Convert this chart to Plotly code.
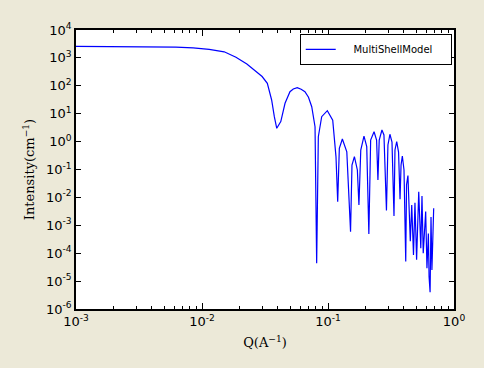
import plotly.graph_objects as go

# Q (1/A) and intensity (1/cm)
q_values = [0.001, 0.003, 0.0062, 0.0085, 0.0114, 0.0150, 0.0186, 0.0227, 0.0269, 0.0300,
            0.033, 0.0357, 0.0375, 0.0392, 0.0422,
            0.0456, 0.0499, 0.0530, 0.0570, 0.0612, 0.0656, 0.0700, 0.0743, 0.0789, 0.0813,
            0.0838, 0.0891, 0.0988,
            0.109, 0.1157, 0.1194, 0.123, 0.130, 0.141, 0.151, 0.155, 0.162, 0.171,
            0.176, 0.182, 0.193, 0.203, 0.211, 0.218, 0.232, 0.243, 0.249, 0.255,
            0.268, 0.278, 0.291, 0.299, 0.310, 0.322, 0.334, 0.340, 0.351, 0.363,
            0.373, 0.380, 0.389, 0.401, 0.414, 0.420, 0.431, 0.450, 0.462, 0.477,
            0.490, 0.505, 0.525, 0.545, 0.557, 0.570, 0.596, 0.610, 0.626, 0.634,
            0.646, 0.657, 0.668, 0.690]
intensity = [2600, 2580, 2450, 2280, 2030, 1650, 1050, 600, 330, 215,
             123, 31, 7.8, 3.0, 5.2,
             23.6, 61.5, 77, 85.5, 75, 61.5, 38.7, 17.8, 3.4, 4.4e-5,
             1.5, 7.8, 12.8,
             5.9, 0.29, 7e-3, 0.575, 1.24, 0.43, 5.9e-4, 0.145, 0.29, 0.096,
             5.4e-3, 0.5, 1.56, 0.66, 4.9e-4, 1.14, 2.26, 1.14, 0.042, 1.14,
             2.6, 1.73, 3.4e-3, 0.755, 1.83, 0.97, 2.15e-3, 0.5, 0.99, 0.42,
             8.6e-3, 0.145, 0.305, 0.096, 5e-5, 0.028, 0.061, 2.7e-4, 5.3e-3, 8.6e-5,
             6.4e-3, 5.8e-5, 0.016, 1.5e-4, 0.0112, 1e-4, 3.1e-3, 2.9e-5, 5.1e-4, 1.45e-5,
             4e-6, 2.0e-3, 2.5e-5, 4.1e-3]

series_name = "MultiShellModel"
x_ticks = [1e-3, 1e-2, 1e-1, 1]
x_tick_labels = ["10<sup>-3</sup>", "10<sup>-2</sup>", "10<sup>-1</sup>", "10<sup>0</sup>"]
y_ticks = [1e-6, 1e-5, 1e-4, 1e-3, 1e-2, 1e-1, 1, 10, 100, 1000, 10000]
y_tick_labels = ["10<sup>-6</sup>", "10<sup>-5</sup>", "10<sup>-4</sup>", "10<sup>-3</sup>",
                 "10<sup>-2</sup>", "10<sup>-1</sup>", "10<sup>0</sup>", "10<sup>1</sup>",
                 "10<sup>2</sup>", "10<sup>3</sup>", "10<sup>4</sup>"]

x_minor = [m * 10.0 ** e for e in range(-3, 0) for m in range(2, 10)]

pad = "\u00a0" * 4
fig = go.Figure()
fig.add_trace(go.Scatter(x=q_values, y=intensity, mode="lines", name=pad + series_name + pad,
                         line=dict(color="#0000ff", width=1.2)))

tick_font = dict(family="DejaVu Sans", size=13, color="black")
fig.update_layout(
    width=484, height=368,
    paper_bgcolor="#ECE9D8", plot_bgcolor="white",
    margin=dict(l=76, r=30, t=30, b=59),
    showlegend=True,
    legend=dict(x=0.994, y=0.986, xanchor="right", yanchor="top",
                bgcolor="white", bordercolor="black", borderwidth=1,
                font=dict(family="DejaVu Sans", size=10, color="black"),
                tracegroupgap=0, itemwidth=30),
    xaxis=dict(type="log", range=[-3, 0], tickmode="array", tickvals=x_ticks,
               ticktext=x_tick_labels, ticks="inside", ticklen=6, tickcolor="black",
               mirror="allticks", showline=True, linecolor="black", linewidth=1.5,
               showgrid=False, zeroline=False, tickfont=tick_font,
               minor=dict(tickmode="array", tickvals=x_minor, ticks="inside",
                          ticklen=3, tickcolor="black", showgrid=False),
               title=dict(text="Q(A<sup>−1</sup>)", standoff=10,
                          font=dict(family="DejaVu Serif", size=13, color="black"))),
    yaxis=dict(type="log", range=[-6, 4], tickmode="array", tickvals=y_ticks,
               ticktext=y_tick_labels, ticks="inside", ticklen=5, tickcolor="black",
               mirror="allticks", showline=True, linecolor="black", linewidth=1.5,
               showgrid=False, zeroline=False, tickfont=tick_font,
               title=dict(text="Intensity(cm<sup>−1</sup>)", standoff=8,
                          font=dict(family="DejaVu Serif", size=13, color="black"))),
)

fig.write_html(
    "out.html",
    config={"displayModeBar": False},
    post_script="document.body.style.margin='0';document.body.style.overflow='hidden';"
                "document.documentElement.style.background='#ECE9D8';"
                "document.body.style.background='#ECE9D8';",
)
